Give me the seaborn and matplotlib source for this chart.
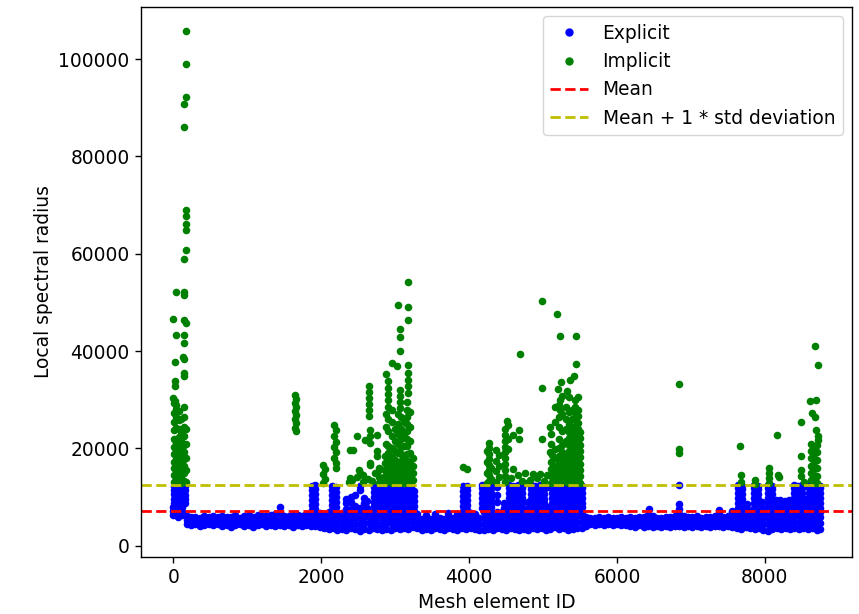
import matplotlib
matplotlib.use("Agg")
import matplotlib.pyplot as plt
import seaborn as sns
import pandas as pd
from matplotlib.lines import Line2D

# ---------------- data ----------------
mean_value = 7250
mean_plus_std = 12540

# Explicit elements: base band, three rows per sampled element ID
expl_base_ids = [0, 60, 120, 180, 240, 300, 360, 420, 480, 540,
                 600, 660, 720, 780, 840, 900, 960, 1020, 1080, 1140,
                 1200, 1260, 1320, 1380, 1440, 1500, 1560, 1620, 1680, 1740,
                 1800, 1860, 1920, 1980, 2040, 2100, 2160, 2220, 2280, 2340,
                 2400, 2460, 2520, 2580, 2640, 2700, 2760, 2820, 2880, 2940,
                 3000, 3060, 3120, 3180, 3240, 3300, 3360, 3420, 3480, 3540,
                 3600, 3660, 3720, 3780, 3840, 3900, 3960, 4020, 4080, 4140,
                 4200, 4260, 4320, 4380, 4440, 4500, 4560, 4620, 4680, 4740,
                 4800, 4860, 4920, 4980, 5040, 5100, 5160, 5220, 5280, 5340,
                 5400, 5460, 5520, 5580, 5640, 5700, 5760, 5820, 5880, 5940,
                 6000, 6060, 6120, 6180, 6240, 6300, 6360, 6420, 6480, 6540,
                 6600, 6660, 6720, 6780, 6840, 6900, 6960, 7020, 7080, 7140,
                 7200, 7260, 7320, 7380, 7440, 7500, 7560, 7620, 7680, 7740,
                 7800, 7860, 7920, 7980, 8040, 8100, 8160, 8220, 8280, 8340,
                 8400, 8460, 8520, 8580, 8640, 8700, 8740]
expl_low = [6300, 5900, 6400, 4500, 4200, 4400, 4100, 4300, 4500, 4200,
            4400, 4000, 4300, 3900, 4200, 4400, 4000, 4300, 3800, 4200,
            4400, 4000, 4300, 4100, 4200, 4000, 4300, 3900, 4200, 4000,
            4300, 4100, 4000, 3800, 3600, 3400, 3700, 3300, 3500, 3200,
            3600, 3400, 3100, 3500, 3300, 3600, 3400, 3200, 3500, 3300,
            3600, 3400, 3700, 3500, 3800, 3600, 3300, 3500, 3200, 3600,
            3400, 3300, 3700, 3500, 3200, 3600, 3500, 3700, 3400, 3300,
            3300, 3500, 3200, 3600, 3400, 3300, 3600, 3400, 3200, 3500,
            3300, 3600, 3400, 3700, 3300, 3500, 3800, 3400, 3600, 3300,
            3500, 3700, 3600, 4000, 4400, 4300, 4400, 4200, 4400, 4300,
            4400, 4200, 4300, 4100, 3900, 4200, 3800, 4000, 3900, 4100,
            3800, 4000, 3900, 4100, 4000, 3900, 4100, 3800, 4000, 3900,
            4100, 3800, 4000, 4100, 3900, 4000, 3800, 3700, 3500, 3800,
            3600, 3400, 3700, 3300, 3100, 3400, 3600, 3500, 3700, 3400,
            3600, 3500, 3700, 3400, 3600, 3300, 3500]
expl_mid = [7100, 6800, 7200, 5300, 5100, 5200, 5000, 5300, 5200, 5100,
            5300, 5000, 5200, 5000, 5300, 5100, 5000, 5400, 5000, 5200,
            5300, 5100, 5200, 5300, 5600, 5100, 5200, 5000, 5300, 5100,
            5400, 5200, 5200, 4800, 4700, 4500, 4900, 4500, 4600, 4400,
            4700, 4500, 4400, 4700, 4600, 4800, 4500, 4400, 4700, 4600,
            4800, 4700, 4900, 4800, 5000, 4700, 4400, 4600, 4300, 4700,
            4500, 4400, 4800, 4600, 4400, 4800, 4700, 4800, 4500, 4500,
            4500, 4700, 4400, 4800, 4600, 4500, 4800, 4600, 4400, 4700,
            4500, 4700, 4600, 4900, 4500, 4700, 5000, 4600, 4800, 4500,
            4700, 4900, 4800, 5000, 5100, 5000, 5100, 5000, 5200, 5000,
            5100, 5000, 5100, 5000, 4900, 5100, 4800, 5100, 5000, 5000,
            4800, 5000, 4900, 5100, 5200, 4900, 5100, 4900, 5000, 4900,
            5100, 4800, 5000, 5200, 4900, 5000, 4900, 4800, 4700, 4900,
            4800, 4600, 4900, 4500, 4400, 4600, 4800, 4700, 4900, 4600,
            4800, 4700, 4900, 4600, 4800, 4500, 4700]
expl_high = [7900, 7700, 8000, 6100, 5900, 6000, 5800, 6200, 5900, 6100,
             6000, 6200, 5900, 6000, 6300, 5800, 6100, 6300, 6000, 6400,
             6100, 6200, 6300, 6500, 7000, 6200, 6100, 6300, 6400, 6200,
             6500, 6400, 6600, 5900, 5800, 5700, 6100, 5800, 5900, 5700,
             6000, 5800, 5700, 6000, 5900, 6000, 5800, 5700, 5900, 5800,
             6100, 6000, 6200, 6100, 6200, 5800, 5600, 5700, 5500, 5900,
             5700, 5600, 6000, 5800, 5700, 6100, 6000, 5900, 5800, 5800,
             5800, 6000, 5700, 6100, 5900, 5800, 6000, 5900, 5700, 6000,
             5800, 5900, 6000, 6100, 5800, 6000, 6200, 5900, 6100, 5800,
             6000, 6200, 6100, 5900, 5800, 5700, 5900, 5800, 5900, 5700,
             5800, 5900, 5800, 5900, 5800, 6000, 5900, 6300, 6100, 5800,
             5700, 5900, 6000, 6200, 6600, 6100, 6000, 5900, 6100, 5800,
             6000, 5900, 6200, 6500, 6000, 6100, 6300, 6000, 5900, 6100,
             6000, 5900, 6200, 5800, 5700, 5900, 6000, 5900, 6100, 5800,
             6000, 6100, 6200, 5900, 6000, 5800, 6000]

# Explicit elements near the mean line (upper edge of the band)
expl_upper_ids = [1980, 2040, 2100, 2160, 2220, 2280, 2340, 2400, 2460, 2520,
                  2580, 2640, 3300, 3420, 3540, 3720, 3840, 4020, 4080, 4200,
                  4260, 4320, 4380, 4440, 4500, 4560, 4620, 4680, 4740, 4800,
                  4860, 4920, 4980, 5040, 5100, 5160, 5220, 5280, 5340, 5400,
                  5460, 5520, 7620, 7680, 7740, 7800, 7860, 7920, 7980, 8040,
                  8100, 8160, 8220, 8280, 8340, 8400, 8460, 8520, 8580, 8640,
                  8700, 8740]
expl_upper_vals = [6800, 6600, 7000, 6900, 6700, 6800, 7000, 6900, 6700, 6800,
                   7000, 6900, 6500, 6400, 6600, 6800, 6500, 6700, 6600, 6900,
                   7000, 6800, 6900, 7000, 6800, 6900, 7100, 6800, 6900, 7000,
                   6800, 6900, 7000, 6800, 6900, 7100, 6800, 7000, 6900, 7000,
                   6800, 6900, 7000, 6800, 6900, 7000, 7100, 6900, 6800, 7000,
                   6900, 7100, 7000, 6800, 6900, 7100, 7000, 6900, 7000, 6800,
                   7100, 6900]

# Explicit elements reaching up toward the threshold (columns)
expl_tall_ids = [10, 50, 90, 130, 165, 1440, 1870, 1910, 2150, 2200,
                 2330, 2400, 2460, 2530, 2580, 2620,
                 2710, 2760, 2810, 2860, 2910, 2960, 3010, 3060, 3110, 3160, 3210, 3250,
                 3920, 3970,
                 4170, 4230, 4290, 4380, 4470, 4540, 4600, 4660, 4720, 4790,
                 4840, 4890, 4960, 5010, 5060, 5120, 5180, 5240, 5300, 5360,
                 5420, 5480, 5530,
                 6430, 6845, 7380, 7560,
                 7640, 7690, 7760, 7850, 7900, 7960, 8040, 8090, 8150, 8210,
                 8270, 8330, 8400, 8450, 8500, 8550, 8590, 8640, 8690, 8740]
expl_tall_vals = [
    [8800, 9700, 10600, 11500, 12300], [8700, 9600, 10500, 11400, 12400],
    [8900, 9800, 10700, 11600, 12300], [8800, 9700, 10600, 11500, 12400],
    [8700, 9600, 10500, 11400, 12300], [7900],
    [7400, 8400, 9400, 10400, 11400, 12300], [7600, 8600, 9600, 10600, 11600, 12400],
    [7400, 8400, 9400, 10400, 11400, 12200], [8000, 9000, 10000, 11000, 12000],
    [7600, 8800, 9700], [7500, 9000, 10000], [8200, 10500], [7700, 11500, 12200],
    [8900, 9800], [7800, 9200],
    [7100, 8100, 9100, 10100, 11100, 12100], [6900, 7900, 8900, 9900, 10900, 11900, 12400],
    [7000, 8000, 9000, 10000, 11000, 12000], [7200, 8200, 9200, 10200, 11200, 12300],
    [6900, 7900, 8900, 9900, 10900, 11900, 12400], [7100, 8100, 9100, 10100, 11100, 12200],
    [7000, 8000, 9000, 10000, 11000, 12000], [7200, 8200, 9200, 10200, 11200, 12300],
    [6900, 7900, 8900, 9900, 10900, 11900, 12400], [7100, 8100, 9100, 10100, 11100, 12200],
    [7000, 8000, 9000, 10000, 11000, 12100], [7200, 8200, 9200, 10200, 11300],
    [7200, 8200, 9200, 10200, 11200, 12200], [7400, 8400, 9400, 10400, 11400, 12300],
    [7800, 8800, 9800, 10800, 11800, 12400], [7700, 8700, 9700, 10700, 11700, 12300],
    [7900, 8900, 9900, 10900, 11900, 12400], [9000, 10500, 12000], [7800, 8800],
    [7800, 8800, 9800, 10800, 11800, 12400], [7700, 8700, 9700, 10700, 11700, 12300],
    [7900, 8900, 9900, 10900, 11900, 12400], [7800, 8800, 9800, 10800, 11800, 12300],
    [7800, 9000],
    [7700, 8700, 9700, 10700, 11700, 12400], [7900, 8900, 9900, 10900, 11900, 12300],
    [7800, 8800, 9800, 10800, 11800, 12400], [7700, 8700, 9700, 10700, 11700, 12300],
    [8000, 12000],
    [7800, 8800, 9800, 10800, 11800, 12400], [7900, 8900, 9900, 10900, 11900, 12300],
    [7700, 8700, 9700, 10700, 11700, 12400], [7800, 8800, 9800, 10800, 11800, 12300],
    [7900, 8900, 9900, 10900, 11900, 12400], [7800, 8800, 9800, 10800, 11800, 12300],
    [7700, 8700, 9700, 10700, 11700, 12400], [7900, 8900, 9900, 10900, 11900, 12300],
    [7600], [7600, 8500, 12400], [7400], [7200],
    [7800, 8800, 9800, 10800, 11800, 12400], [7700, 8700, 9700, 10700, 11700, 12300],
    [7600, 8600], [7800, 8800, 9800, 10800, 11800, 12400],
    [7700, 8700, 9700, 10700, 11700, 12300], [7800, 9000],
    [7900, 8900, 9900, 10900, 11900, 12400], [7700, 8700, 9700, 10700, 11700, 12300],
    [7700, 8600, 9400], [7800, 8700, 9500], [7600, 8500, 9300], [7700, 8600, 9400],
    [7800, 8800, 9800, 10800, 11800, 12400], [7700, 8700, 9700, 10700, 11700, 12300],
    [7900, 8900, 9900, 10900, 11900, 12400], [7700, 8700, 9700],
    [7800, 8800, 9800, 10800, 11800, 12400], [7700, 8700, 9700, 10700, 11700, 12300],
    [7900, 8900, 9900, 10900, 11900, 12400], [7800, 8800, 9800, 10800, 11800, 12300],
]

# Implicit elements, grouped by cluster (element ID -> values)
impl_a_ids = [0, 5, 20, 34, 40, 75, 110, 135, 146, 150, 168]
impl_a_vals = [
    [46600, 30400],
    [13100, 14500, 15900, 17300, 18800, 20300, 22000, 23800, 25500, 27200, 29300],
    [37700, 33900, 32900, 29700],
    [52100, 43400, 29000, 13800, 16500, 19500, 24200],
    [12900, 15200, 17900, 21200, 26400, 28200],
    [13500, 14800, 16200, 17600, 19000, 20600, 22400, 24000, 25800, 27600],
    [13000, 14400, 15800, 17100, 18500, 19900, 21600, 23300, 26000],
    [38800],
    [52100, 51600, 46300, 43400, 41700, 38400, 35500, 34800, 13400, 14900,
     16300, 17800, 19300, 20800, 22500, 24400, 26500, 28500],
    [90700, 86000, 58900],
    [105700, 98900, 92200, 68900, 67700, 66200, 64800, 60800, 45800, 13100,
     15500, 18000, 21000, 24000],
]
impl_b_ids = [1650, 1665, 2020, 2045, 2170, 2195]
impl_b_vals = [
    [31000, 29300, 27700, 26000, 24300],
    [30200, 28500, 26900, 25200, 23500],
    [16600, 14700, 12900],
    [15700, 13800],
    [24900, 22600, 20300, 18100],
    [23700, 21400, 19200, 17000, 16000],
]
impl_c_ids = [2370, 2394, 2420, 2430, 2484, 2505, 2528, 2560, 2596, 2630,
              2640, 2655, 2663, 2690, 2730, 2754, 2780, 2800]
impl_c_vals = [
    [13100], [19700, 13900], [13500], [19700], [22500, 14200], [15600],
    [14900], [14600, 13200], [21800], [13700],
    [32800, 31600, 30300, 29100, 27900, 26600], [16700],
    [23800, 22500, 21100, 17000], [13400], [14900],
    [22800, 19400, 18400, 14900], [16000, 14200, 13000], [13300, 15800],
]
impl_d_ids = [2860, 2879, 2880, 2910, 2955, 2960, 3000, 3023, 3040, 3060,
              3080, 3120, 3160, 3170, 3200, 3240, 3922, 3967]
impl_d_vals = [
    [13000, 14300, 15600, 17000, 18500],
    [35200],
    [27000, 24500, 21000],
    [33800, 32500, 31200, 29900, 28600, 13600, 14900, 16200, 17500, 19000,
     20500, 23500, 26000],
    [37500],
    [13000, 14300, 15600, 16900, 18200, 20000, 22500, 25500, 28000],
    [13600, 14900, 16200, 17600, 19500, 21500, 24000],
    [36900],
    [49400, 13000, 14300, 15600, 17000, 19000, 21000, 23000, 25000, 27000],
    [44500, 43000, 40100, 32100, 30800, 29500, 28300],
    [13600, 14900, 16200, 17500, 18900, 20300, 22000, 24000, 26500],
    [13000, 14300, 15600, 16900, 18600, 20600, 22800, 25500],
    [13600, 14900, 16200, 17500, 18900, 20500, 22000, 23500, 25000, 26500,
     28000, 29500],
    [54300, 49100, 46300, 37200, 35500, 34100, 32800, 31400],
    [13000, 14300, 15600, 17000, 19000, 21500, 24500, 27500],
    [13500, 15000, 16500, 18000],
    [16200], [15800],
]
impl_e_ids = [4240, 4270, 4300, 4360, 4410, 4480, 4507, 4529, 4560, 4588,
              4597, 4660, 4678, 4682, 4720, 4760, 4780, 4820, 4860, 4920,
              4960, 4987, 5010, 5050, 5091, 5110, 5115, 5160, 5195, 5203,
              5210, 5226, 5249, 5260, 5310, 5325, 5350, 5360, 5390, 5415,
              5430, 5451, 5470, 5500]
impl_e_vals = [
    [19500, 17200, 15000, 13000],
    [21100, 20000, 18900, 17800, 16700, 15600, 14500, 13400],
    [16000, 13800],
    [19700, 17500, 15300, 13100],
    [18600, 16400, 14200],
    [24000, 22800, 21600, 20400, 19200, 18000, 16800, 15600, 14400, 13200],
    [25600], [24900, 22000, 19800], [14000], [15800], [22800], [14600],
    [23800, 21900], [39400], [13300], [14900], [12900], [13600], [14800],
    [13900], [14700], [50400, 32400, 21900], [13400], [14500], [24500, 19200],
    [13000, 14400, 15800, 17200, 21000, 23000], [18700],
    [13600, 15000, 16400, 18000, 19800, 25500, 28500], [47700], [32200],
    [13000, 14300, 15700, 17100, 18500, 20000, 22000, 24500, 26500, 29000],
    [43200, 30000, 28000], [33600],
    [13700, 15100, 16500, 17900, 19300, 20700, 23500, 27000, 30800],
    [13200, 14600, 16000, 17400, 18800, 21500, 24000, 26000, 28500],
    [31900],
    [13000, 14300, 15600, 16900, 18200, 19500, 20800, 22100, 23400, 25000,
     27500, 30500],
    [34100],
    [13600, 14900, 16200, 17500, 18800, 20100, 21400, 22700, 24000, 26000, 28000],
    [34900],
    [13000, 14300, 15600, 16900, 18200, 19500, 20800, 22100, 23400, 24700,
     26000, 27300, 28600, 29900],
    [43200, 37400],
    [13600, 14900, 16200, 17500, 18800, 20100, 21400, 22700, 24000, 25300,
     26600, 28000, 30500],
    [13000, 14300, 15600, 16900, 18200, 19500, 20800, 22100, 23400],
]
impl_f_ids = [6845, 7667, 7680, 7870, 8050, 8162, 8175, 8190, 8486, 8530,
              8607, 8620, 8642, 8660, 8674, 8678, 8686, 8696, 8700, 8719]
impl_f_vals = [
    [33200, 19800, 19100], [20600], [14600, 13200], [13600, 12800],
    [16000, 15000, 14000, 13000], [22700], [14600], [14200],
    [25400, 18500, 15600, 14400], [13200], [29700],
    [21000, 19500, 18000, 16500, 15000, 13500], [27300],
    [20300, 18800, 17300, 15800, 14300, 12900], [41100], [26500], [23800],
    [29900], [20800, 19200, 17600, 16000, 14400, 13000], [37200, 22600, 21800],
]


def expand(ids, groups):
    xs, ys = [], []
    for i, vals in zip(ids, groups):
        xs.extend([i] * len(vals))
        ys.extend(vals)
    return xs, ys


ex_x = expl_base_ids * 3 + expl_upper_ids
ex_y = expl_low + expl_mid + expl_high + expl_upper_vals
tx, ty = expand(expl_tall_ids, expl_tall_vals)
explicit = pd.DataFrame({"id": ex_x + tx, "radius": ex_y + ty})

im_x, im_y = [], []
for ids, vals in [(impl_a_ids, impl_a_vals), (impl_b_ids, impl_b_vals),
                  (impl_c_ids, impl_c_vals), (impl_d_ids, impl_d_vals),
                  (impl_e_ids, impl_e_vals), (impl_f_ids, impl_f_vals)]:
    gx, gy = expand(ids, vals)
    im_x += gx
    im_y += gy
implicit = pd.DataFrame({"id": im_x, "radius": im_y})

# ---------------- plot ----------------
plt.rcParams["font.family"] = ["DejaVu Sans"]
plt.rcParams["font.size"] = 13.4
plt.rcParams["axes.linewidth"] = 1.0
plt.rcParams["xtick.major.size"] = 4.6
plt.rcParams["ytick.major.size"] = 4.6
plt.rcParams["xtick.major.width"] = 1.0
plt.rcParams["ytick.major.width"] = 1.0

fig = plt.figure(figsize=(8.59, 6.14), dpi=100)
ax = fig.add_axes([0.1641, 0.0928, 0.8277, 0.8958])

sns.scatterplot(data=explicit, x="id", y="radius", color="b", s=30,
                linewidth=0, ax=ax, legend=False)
sns.scatterplot(data=implicit, x="id", y="radius", color="g", s=30,
                linewidth=0, ax=ax, legend=False)
ax.axhline(mean_value, color="r", linestyle="--", linewidth=2.0)
ax.axhline(mean_plus_std, color="y", linestyle="--", linewidth=2.0)

ax.set_xlim(-437, 9177)
ax.set_ylim(-2300, 110700)
ax.set_xlabel("Mesh element ID")
ax.set_ylabel("Local spectral radius")

handles = [
    Line2D([], [], linestyle="none", marker="o", color="b", markersize=5),
    Line2D([], [], linestyle="none", marker="o", color="g", markersize=5),
    Line2D([], [], color="r", linestyle="--", linewidth=2.0),
    Line2D([], [], color="y", linestyle="--", linewidth=2.0),
]
ax.legend(handles, ["Explicit", "Implicit", "Mean", "Mean + 1 * std deviation"],
          loc="upper right")

fig.savefig("out.png", dpi=100)
